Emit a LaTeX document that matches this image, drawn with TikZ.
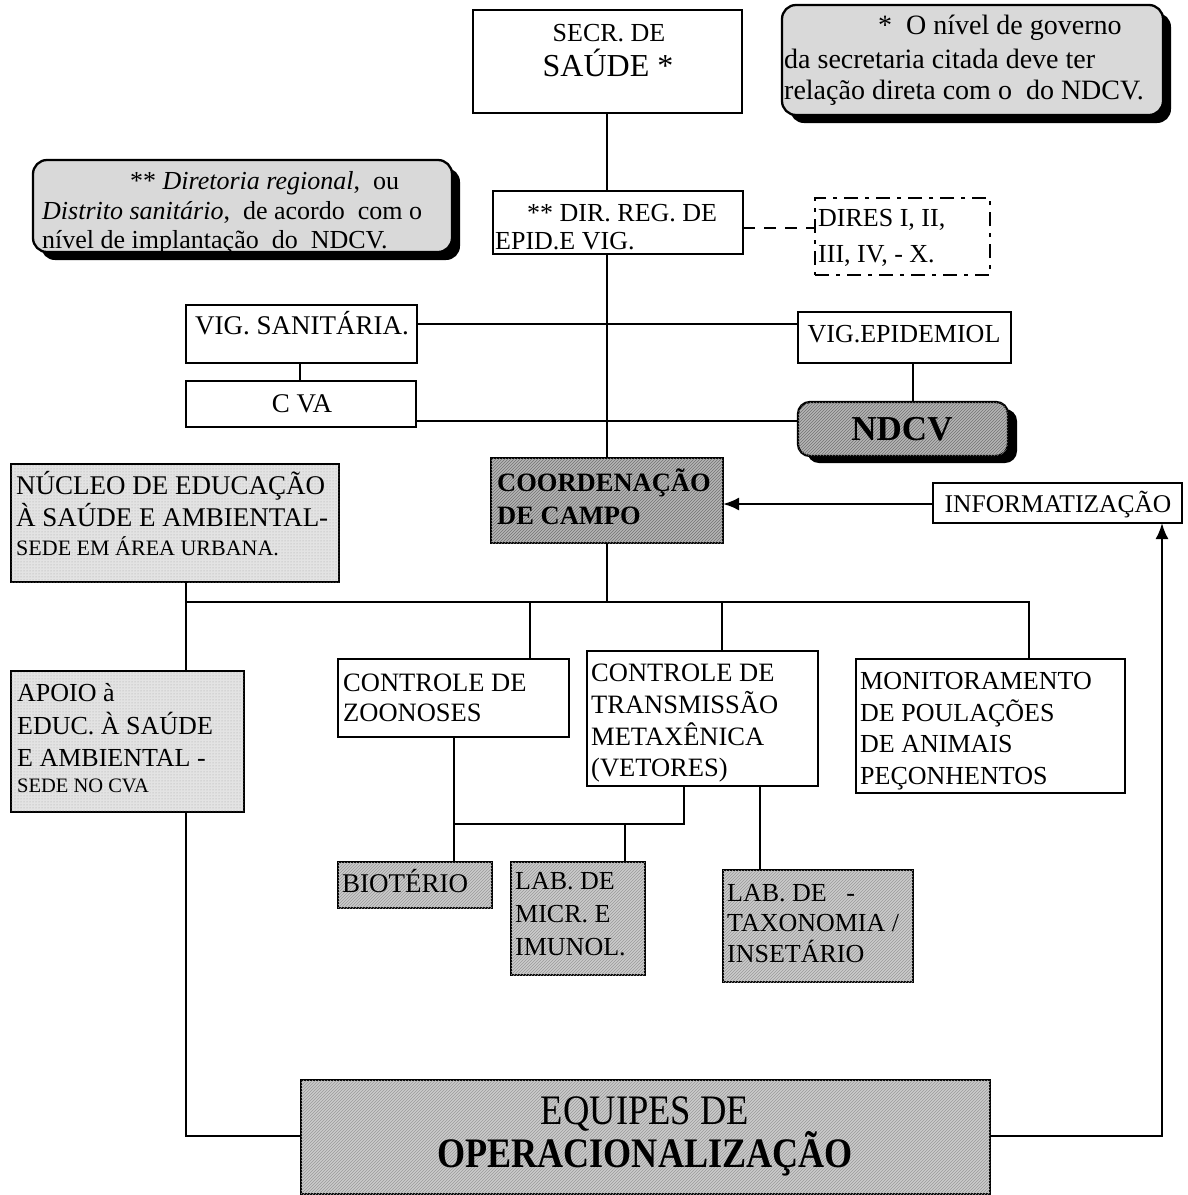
\documentclass[tikz,border=0pt]{standalone}
\usepackage{fontspec}
\setmainfont{Liberation Serif}
\usetikzlibrary{patterns,shadows,arrows.meta}
\newcommand\fsz[1]{\fontsize{#1}{#1}\selectfont}
\tikzset{
  ln/.style={line width=2.3pt},
  bx/.style={draw, line width=2.3pt, anchor=north west, inner sep=0pt, outer sep=0pt},
  t/.style={anchor=base west, inner sep=0pt, font=\rmfamily\fsz{26}},
  tc/.style={anchor=base, inner sep=0pt, font=\rmfamily\fsz{26}},
  notefill/.style={fill=gray!30, rounded corners=14pt,
     drop shadow={shadow xshift=8pt, shadow yshift=-8pt, fill=black, opacity=1}},
  dotfill/.style={fill=gray!22, postaction={pattern=dots, pattern color=gray!70}},
  darkfill/.style={fill=gray!58, postaction={pattern=north east lines, pattern color=black!55}},
  midfill/.style={fill=gray!40, postaction={pattern=north east lines, pattern color=gray!80}},
}
\begin{document}
\begin{tikzpicture}[x=1pt,y=-1pt]
\useasboundingbox (0,0) rectangle (1187,1195);
\fill[white] (0,0) rectangle (1187,1195);

% ---------- boxes ----------
\node[bx, minimum width=269, minimum height=103] (secr) at (473,10) {};
\node[bx, notefill, minimum width=381, minimum height=110] (note1) at (782,5) {};
\node[bx, notefill, minimum width=419, minimum height=92] (note2) at (33,160) {};
\node[bx, minimum width=250, minimum height=63] (dir) at (493,191) {};
\node[bx, dash pattern=on 14pt off 7pt on 4pt off 7pt, minimum width=175, minimum height=77] (dires) at (815,198) {};
\node[bx, minimum width=231, minimum height=58] (vigsan) at (186,305) {};
\node[bx, minimum width=213, minimum height=51] (vigepi) at (798,312) {};
\node[bx, minimum width=230, minimum height=46] (cva) at (186,381) {};
\node[bx, darkfill, rounded corners=12pt,
      drop shadow={shadow xshift=9pt, shadow yshift=-7pt, fill=black, opacity=1},
      minimum width=210, minimum height=54] (ndcv) at (798,402) {};
\node[bx, darkfill, minimum width=232, minimum height=85] (coord) at (491,458) {};
\node[bx, minimum width=249, minimum height=40] (info) at (933,483) {};
\node[bx, dotfill, minimum width=328, minimum height=118] (nucleo) at (11,464) {};
\node[bx, dotfill, minimum width=233, minimum height=141] (apoio) at (11,671) {};
\node[bx, minimum width=231, minimum height=78] (zoon) at (338,659) {};
\node[bx, minimum width=231, minimum height=135] (trans) at (587,651) {};
\node[bx, minimum width=269, minimum height=134] (monit) at (856,659) {};
\node[bx, midfill, minimum width=154, minimum height=46] (biot) at (338,862) {};
\node[bx, midfill, minimum width=134, minimum height=113] (labmicr) at (511,862) {};
\node[bx, midfill, minimum width=190, minimum height=112] (labtax) at (723,870) {};
\node[bx, midfill, minimum width=689, minimum height=114] (equipes) at (301,1080) {};

% ---------- connector coordinates ----------
\coordinate (vx) at (607,0);
\coordinate (hy) at (0,324);
\coordinate (cy) at (0,421);
\coordinate (dy) at (0,228);
\coordinate (ay) at (0,504);
\coordinate (lp) at (0,1136);
\coordinate (bL) at (186,602);
\coordinate (bC) at (607,602);
\coordinate (bZ) at (530,602);
\coordinate (bT) at (722,602);
\coordinate (bR) at (1029,602);
\coordinate (sx) at (300,0);
\coordinate (ex) at (913,0);
\coordinate (zx) at (454,0);
\coordinate (tx) at (684,0);
\coordinate (mx) at (625,0);
\coordinate (lx) at (760,0);
\coordinate (hz) at (0,824);
\coordinate (rx) at (1162,0);

% ---------- connectors ----------
\draw[ln] (vx |- secr.south) -- (vx |- dir.north);
\draw[ln] (vx |- dir.south) -- (vx |- coord.north);
\draw[ln, dash pattern=on 12pt off 9pt] (dir.east |- dy) -- (dires.west |- dy);
\draw[ln] (vigsan.east |- hy) -- (vigepi.west |- hy);
\draw[ln] (sx |- vigsan.south) -- (sx |- cva.north);
\draw[ln] (ex |- vigepi.south) -- (ex |- ndcv.north);
\draw[ln] (cva.east |- cy) -- (ndcv.west |- cy);
\draw[ln, -{Latex[length=16pt,width=13pt]}] (info.west |- ay) -- (coord.east |- ay);
\draw[ln] (vx |- coord.south) -- (bC);
\draw[ln] (bL |- nucleo.south) -- (bL) -- (bR) -- (bR |- monit.north);
\draw[ln] (bL) -- (bL |- apoio.north);
\draw[ln] (bZ) -- (bZ |- zoon.north);
\draw[ln] (bT) -- (bT |- trans.north);
\draw[ln] (zx |- zoon.south) -- (zx |- biot.north);
\draw[ln] (zx |- hz) -- (tx |- hz) -- (tx |- trans.south);
\draw[ln] (mx |- hz) -- (mx |- labmicr.north);
\draw[ln] (lx |- trans.south) -- (lx |- labtax.north);
\draw[ln] (bL |- apoio.south) -- (bL |- lp) -- (equipes.west |- lp);
\draw[ln, -{Latex[length=16pt,width=13pt]}] (equipes.east |- lp) -- (rx |- lp) -- (rx |- info.south);

% ---------- texts ----------
\node[tc, font=\fsz{26}] (secrA) at (609,41) {SECR. DE};
\node[tc, font=\fsz{32}] (secrB) at (608,76) {SAÚDE *};

\node[t, font=\fsz{28}] (n1a) at (878,34) {*\ \ O nível de governo};
\node[t, font=\fsz{28}] (n1b) at (784,68) {da secretaria citada deve ter};
\node[t, font=\fsz{28}] (n1c) at (784,99) {relação direta com o\ \ do NDCV.};

\node[t, font=\fsz{26}] (n2a) at (130,189) {**\ \textit{Diretoria regional},\ \ ou};
\node[t, font=\fsz{26}] (n2b) at (42,219) {\textit{Distrito sanitário},\ \ de acordo\ \ com o};
\node[t, font=\fsz{26}] (n2c) at (42,248) {nível de implantação\ \ do\ \ NDCV.};

\node[t, font=\fsz{26}] (dirA) at (527,221) {** DIR. REG. DE};
\node[t, font=\fsz{26}] (dirB) at (495,249) {EPID.E VIG.};

\node[t, font=\fsz{26}] (diresA) at (818,226) {DIRES I, II,};
\node[t, font=\fsz{26}] (diresB) at (818,262) {III, IV, - X.};

\node[tc, font=\fsz{27}] (vsT) at (302,334) {VIG. SANITÁRIA.};
\node[tc, font=\fsz{26}] (veT) at (904,342) {VIG.EPIDEMIOL};
\node[tc, font=\fsz{27}] (cvaT) at (302,412) {C VA};
\node[tc, font=\bfseries\fsz{35}] (ndcvT) at (902,440) {NDCV};

\node[t, font=\bfseries\fsz{26.5}] (coA) at (497,491) {COORDENAÇÃO};
\node[t, font=\bfseries\fsz{26.5}] (coB) at (497,524) {DE CAMPO};

\node[tc, font=\fsz{25.5}] (infoT) at (1058,512) {INFORMATIZAÇÃO};

\node[t, font=\fsz{27}] (nuA) at (16,494) {NÚCLEO DE EDUCAÇÃO};
\node[t, font=\fsz{27}] (nuB) at (16,526) {À SAÚDE E AMBIENTAL-};
\node[t, font=\fsz{22}] (nuC) at (16,555) {SEDE EM ÁREA URBANA.};

\node[t, font=\fsz{26}] (apA) at (17,701) {APOIO à};
\node[t, font=\fsz{26}] (apB) at (17,734) {EDUC. À SAÚDE};
\node[t, font=\fsz{26}] (apC) at (17,766) {E AMBIENTAL -};
\node[t, font=\fsz{20.5}] (apD) at (17,792) {SEDE NO CVA};

\node[t, font=\fsz{26.5}] (zoA) at (343,691) {CONTROLE DE};
\node[t, font=\fsz{26.5}] (zoB) at (343,721) {ZOONOSES};

\node[t, font=\fsz{26.5}] (trA) at (591,681) {CONTROLE DE};
\node[t, font=\fsz{26.5}] (trB) at (591,713) {TRANSMISSÃO};
\node[t, font=\fsz{26.5}] (trC) at (591,745) {METAXÊNICA};
\node[t, font=\fsz{26.5}] (trD) at (591,776) {(VETORES)};

\node[t, font=\fsz{26}] (moA) at (860,689) {MONITORAMENTO};
\node[t, font=\fsz{26}] (moB) at (860,721) {DE POULAÇÕES};
\node[t, font=\fsz{26}] (moC) at (860,752) {DE ANIMAIS};
\node[t, font=\fsz{26}] (moD) at (860,784) {PEÇONHENTOS};

\node[t, font=\fsz{27}] (biT) at (342,892) {BIOTÉRIO};

\node[t, font=\fsz{26}] (lmA) at (515,889) {LAB. DE};
\node[t, font=\fsz{26}] (lmB) at (515,922) {MICR. E};
\node[t, font=\fsz{26}] (lmC) at (515,955) {IMUNOL.};

\node[t, font=\fsz{26}] (ltA) at (727,901) {LAB. DE\ \ \ -};
\node[t, font=\fsz{26}] (ltB) at (727,931) {TAXONOMIA /};
\node[t, font=\fsz{26}] (ltC) at (727,962) {INSETÁRIO};

\node[tc, font=\fsz{42}] (eqA) at (645,1124) {\scalebox{0.87}[1]{EQUIPES DE}};
\node[tc, font=\bfseries\fsz{42}] (eqB) at (645,1167) {\scalebox{0.86}[1]{OPERACIONALIZAÇÃO}};
\end{tikzpicture}
\end{document}
